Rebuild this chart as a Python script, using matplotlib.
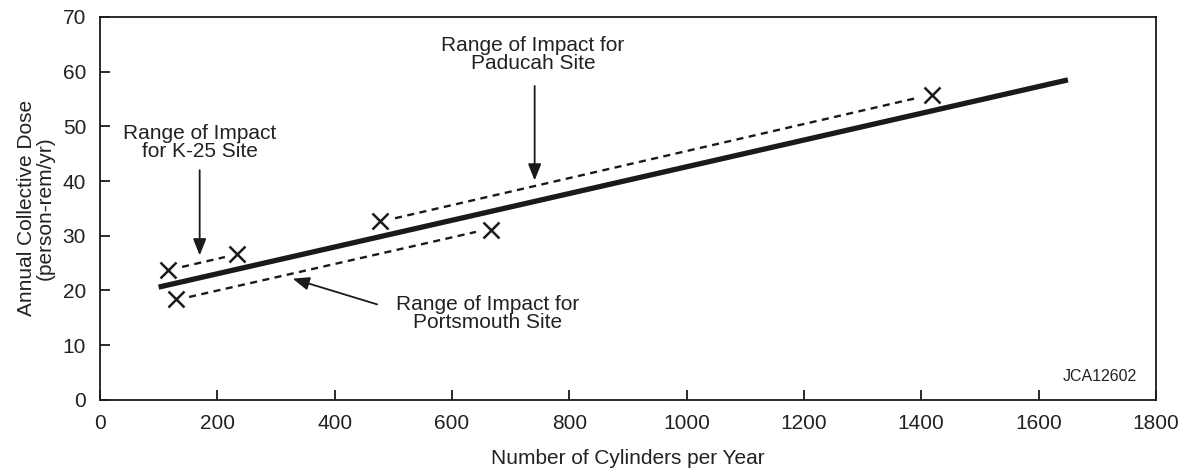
import matplotlib
matplotlib.use("Agg")
import matplotlib.pyplot as plt

plt.rcParams['font.family'] = ['Liberation Sans', 'DejaVu Sans']

# fitted trend line
trend_x = [100, 1650]
trend_y = [20.6, 58.5]

# ranges of impact for each site (end points)
k25_x = [116, 233]
k25_y = [23.7, 26.6]
k25_dash_x = [140, 213]
k25_dash_y = [24.3, 26.1]

ports_x = [130, 666]
ports_y = [18.4, 31.0]
ports_dash_x = [152, 641]
ports_dash_y = [18.8, 30.7]

paducah_x = [477, 1418]
paducah_y = [32.7, 55.7]
paducah_dash_x = [503, 1393]
paducah_dash_y = [33.2, 55.2]

x_ticks = list(range(0, 1801, 200))
y_ticks = list(range(0, 71, 10))

ink = "#1a1a1a"
txt = "#222222"

fig = plt.figure(figsize=(11.87, 4.72), dpi=100)
ax = fig.add_axes([0.0842, 0.153, 0.8896, 0.811])

ax.plot(trend_x, trend_y, color=ink, lw=3.8, solid_capstyle="butt")

for dx, dy, mx, my in [(k25_dash_x, k25_dash_y, k25_x, k25_y),
                       (ports_dash_x, ports_dash_y, ports_x, ports_y),
                       (paducah_dash_x, paducah_dash_y, paducah_x, paducah_y)]:
    ax.plot(dx, dy, color=ink, lw=1.7, dashes=(3, 2.3))
    ax.plot(mx, my, "x", color=ink, ms=11, mew=1.8, ls="none")

arrow = dict(arrowstyle="-|>,head_length=1.0,head_width=0.4", color=ink, lw=1.3)

ax.annotate("", xy=(170, 25.9), xytext=(170, 42.5), arrowprops=arrow)
ax.text(170, 47.1, "Range of Impact\nfor K-25 Site", ha="center", va="center",
        fontsize=15, color=txt, linespacing=0.95)

ax.annotate("", xy=(741, 39.6), xytext=(741, 57.9), arrowprops=arrow)
ax.text(738, 63.2, "Range of Impact for\nPaducah Site", ha="center", va="center",
        fontsize=15, color=txt, linespacing=0.95)

ax.annotate("", xy=(324, 22.3), xytext=(477, 17.3), arrowprops=arrow)
ax.text(660, 15.8, "Range of Impact for\nPortsmouth Site", ha="center", va="center",
        fontsize=15, color=txt, linespacing=0.95)

ax.text(1704, 4.3, "JCA12602", ha="center", va="center", fontsize=11.5, color=txt)

ax.set_xlim(0, 1800)
ax.set_ylim(0, 70)
ax.set_xticks(x_ticks)
ax.set_yticks(y_ticks)
ax.tick_params(direction="in", length=7, width=1.3, color=ink, labelsize=15,
               labelcolor=txt, pad=10)
for s in ax.spines.values():
    s.set_linewidth(1.3)
    s.set_color(ink)

ax.set_xlabel("Number of Cylinders per Year", fontsize=15, color=txt, labelpad=12)
ax.set_ylabel("Annual Collective Dose\n(person-rem/yr)", fontsize=15, color=txt,
              labelpad=6, linespacing=0.95)

fig.savefig("out.png", dpi=100)
